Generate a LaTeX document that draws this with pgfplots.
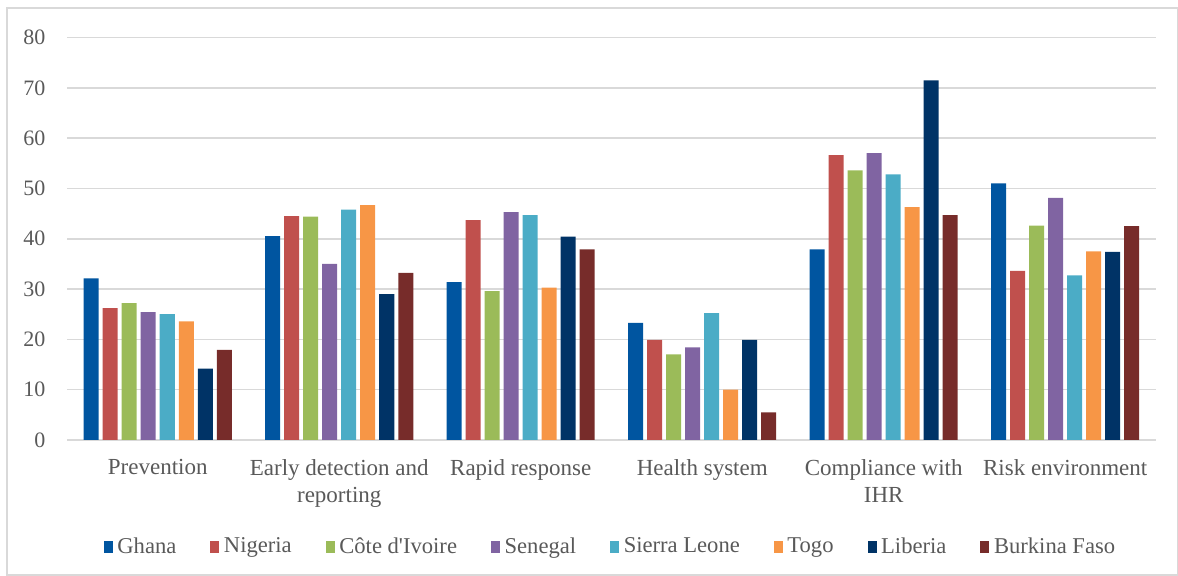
\documentclass[border=0pt]{standalone}
\usepackage{fontspec}
\setmainfont{Liberation Serif}
\newfontfamily\plainfont{Liberation Serif}
\usepackage{pgfplots}
\pgfplotsset{compat=1.18}
\definecolor{cGhana}{RGB}{0,85,160}
\definecolor{cNigeria}{RGB}{192,80,77}
\definecolor{cCote}{RGB}{155,187,89}
\definecolor{cSenegal}{RGB}{128,100,162}
\definecolor{cSierra}{RGB}{75,172,198}
\definecolor{cTogo}{RGB}{247,150,70}
\definecolor{cLiberia}{RGB}{0,51,102}
\definecolor{cBurkina}{RGB}{119,44,42}
\definecolor{txt}{RGB}{89,89,89}
\definecolor{gridc}{RGB}{217,217,217}
\begin{document}
\begin{tikzpicture}
\useasboundingbox (0,0) rectangle (589pt,288pt);
\draw[gridc, line width=0.8pt] (3.5pt,0.5pt) rectangle (588.7pt,284pt);
\begin{axis}[
  at={(33.5pt,68pt)}, anchor=south west,
  scale only axis, width=544.5pt, height=201.25pt,
  ybar=2pt, bar width=7.5pt,
  xmin=-0.5, xmax=5.5, ymin=0, ymax=80,
  xtick={0,1,2,3,4,5},
  xticklabels={Prevention, {Early detection and\\reporting}, Rapid response, Health system, {Compliance with\\IHR}, Risk environment},
  ytick={0,10,...,80},
  ymajorgrids, grid style={gridc, line width=0.8pt},
  axis line style={draw=none},
  major tick length=0pt,
  yticklabel style={font=\fontsize{11}{13}\selectfont, text=txt, xshift=-7.3pt},
  xticklabel style={font=\fontsize{11.5}{13.5}\selectfont, text=txt, align=center, yshift=-6pt},
  /pgf/number format/assume math mode=true,
  legend style={at={(0.5,0)}, anchor=center, yshift=-53.5pt, draw=none, fill=none,
    font=\fontsize{11.3}{13}\selectfont, text=txt, legend columns=-1,
    /tikz/every odd column/.append style={column sep=0.3pt},
    /tikz/every even column/.append style={column sep=15pt}},
  legend image code/.code={\fill[#1] (0pt,-2.8pt) rectangle (4.5pt,2.8pt);},
  every axis plot/.append style={draw=none},
]
\addplot[fill=cGhana] coordinates {(0,32.1) (1,40.5) (2,31.4) (3,23.3) (4,37.9) (5,51.0)};
\addplot[fill=cNigeria] coordinates {(0,26.2) (1,44.5) (2,43.7) (3,19.9) (4,56.6) (5,33.6)};
\addplot[fill=cCote] coordinates {(0,27.2) (1,44.4) (2,29.6) (3,17.0) (4,53.6) (5,42.6)};
\addplot[fill=cSenegal] coordinates {(0,25.4) (1,35.0) (2,45.3) (3,18.4) (4,57.0) (5,48.1)};
\addplot[fill=cSierra] coordinates {(0,25.0) (1,45.8) (2,44.7) (3,25.2) (4,52.8) (5,32.7)};
\addplot[fill=cTogo] coordinates {(0,23.6) (1,46.7) (2,30.3) (3,10.0) (4,46.3) (5,37.5)};
\addplot[fill=cLiberia] coordinates {(0,14.2) (1,29.0) (2,40.4) (3,19.9) (4,71.5) (5,37.4)};
\addplot[fill=cBurkina] coordinates {(0,17.9) (1,33.2) (2,37.9) (3,5.5) (4,44.7) (5,42.5)};
\legend{Ghana, Nigeria, {Côte d{\plainfont'}Ivoire}, Senegal, Sierra Leone, Togo, Liberia, Burkina Faso}
\end{axis}
\end{tikzpicture}
\end{document}
